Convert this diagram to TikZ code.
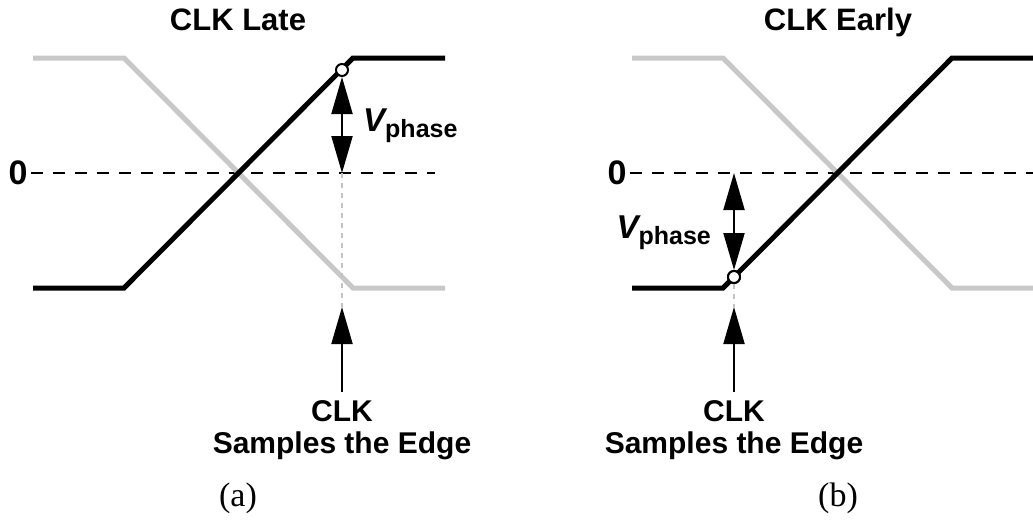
\documentclass[tikz,border=0pt]{standalone}
\usepackage{fontspec}
\setmainfont{Liberation Sans}
\newfontfamily\seriffont{Liberation Serif}
\usetikzlibrary{arrows.meta}
\definecolor{lgray}{RGB}{200,200,200}
\definecolor{dgray}{RGB}{195,195,195}
\begin{document}
\begin{tikzpicture}[x=1pt,y=-1pt,
  wave/.style={line width=5pt, line join=miter},
  gwave/.style={wave, draw=lgray},
  zeroline/.style={line width=2.5pt, dash pattern=on 12pt off 10pt},
  dotline/.style={line width=2pt, draw=dgray, dash pattern=on 5pt off 5pt},
  arr/.style={line width=2pt, -{Triangle[length=37pt,width=21pt]}},
  darr/.style={line width=2pt, {Triangle[length=37pt,width=21pt]}-{Triangle[length=37pt,width=21pt]}},
  lbl/.style={font=\fontsize{30}{34}\selectfont\bfseries, inner sep=0pt, anchor=base},
  zlbl/.style={font=\fontsize{34}{38}\selectfont\bfseries, inner sep=0pt, anchor=center},
  ttl/.style={font=\fontsize{31}{35}\selectfont\bfseries, inner sep=0pt, anchor=base},
  captxt/.style={font=\fontsize{34}{38}\selectfont\seriffont, inner sep=0pt, anchor=base},
  smp/.style={circle, draw, line width=2pt, fill=white, inner sep=0pt, minimum size=12pt},
  vph/.style={inner sep=0pt, anchor=base west}
]
\useasboundingbox (0,0) rectangle (1033,525);

% ---------- panel (a) ----------
\node[ttl] (ta) at (238,30) {CLK Late};
\coordinate (ga1) at (33,58);
\coordinate (ga2) at (124,58);
\coordinate (ga3) at (353,288);
\coordinate (ga4) at (445,288);
\coordinate (ba1) at (33,288);
\coordinate (ba2) at (124,288);
\coordinate (ba3) at (353,58);
\coordinate (ba4) at (445,58);
\node[zlbl] (za) at (18,173) {0};
\coordinate (zae) at (435,173);
\draw[zeroline] (za.east) ++(3pt,0) -- (zae);
\draw[gwave] (ga1) -- (ga2) -- (ga3) -- (ga4);
\draw[wave] (ba1) -- (ba2) -- (ba3) -- (ba4);
\coordinate (za0) at (342,173);
\coordinate (tipa) at (342,307);
\coordinate (srca) at (342,392);
\draw[dotline] (za0) -- (tipa);
\node[smp] (sa) at (342,70) {};
\draw[darr] (sa.south) -- (za0);
\draw[arr] (srca) -- (tipa);
\node[vph] (va) at (363,131) {\fontsize{33}{37}\selectfont\bfseries\itshape V\raisebox{-6pt}{\fontsize{25}{29}\selectfont\upshape phase}};
\node[lbl] (ca) at (342,421) {CLK};
\node[lbl] (sa2) at (342,453) {Samples the Edge};
\node[captxt] (capa) at (238,506) {(a)};

% ---------- panel (b) ----------
\node[ttl] (tb) at (838,30) {CLK Early};
\coordinate (gb1) at (632,58);
\coordinate (gb2) at (723,58);
\coordinate (gb3) at (952,288);
\coordinate (gb4) at (1040,288);
\coordinate (bb1) at (632,288);
\coordinate (bb2) at (723,288);
\coordinate (bb3) at (952,58);
\coordinate (bb4) at (1040,58);
\node[zlbl] (zb) at (617,173) {0};
\coordinate (zbe) at (1040,173);
\draw[zeroline] (zb.east) ++(3pt,0) -- (zbe);
\draw[gwave] (gb1) -- (gb2) -- (gb3) -- (gb4);
\draw[wave] (bb1) -- (bb2) -- (bb3) -- (bb4);
\coordinate (zb0) at (734,173);
\coordinate (tipb) at (734,307);
\coordinate (srcb) at (734,392);
\node[smp] (sb) at (734,277) {};
\draw[dotline] (sb.south) -- (tipb);
\node[smp] at (734,277) {};
\draw[darr] (zb0) -- (sb.north);
\draw[arr] (srcb) -- (tipb);
\node[vph, anchor=base east] (vb) at (711,238) {\fontsize{33}{37}\selectfont\bfseries\itshape V\raisebox{-6pt}{\fontsize{25}{29}\selectfont\upshape phase}};
\node[lbl] (cb) at (734,421) {CLK};
\node[lbl] (sb2) at (734,453) {Samples the Edge};
\node[captxt] (capb) at (838,506) {(b)};
\end{tikzpicture}
\end{document}
